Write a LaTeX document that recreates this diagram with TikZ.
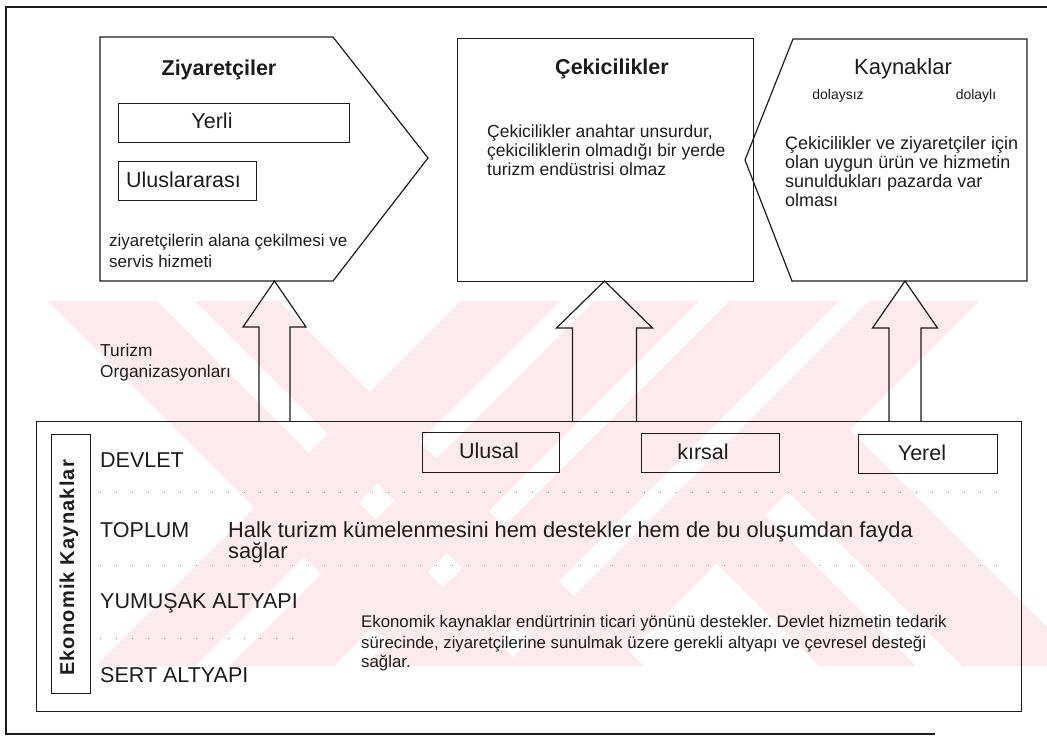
\documentclass[tikz,border=0pt]{standalone}
\usepackage{fontspec}
\setmainfont{Liberation Sans}
\usetikzlibrary{calc}
\definecolor{wm}{RGB}{253,234,238}
\definecolor{ink}{RGB}{28,28,28}
\newcommand\fsz[1]{\fontsize{#1}{#1}\selectfont}
% block arrow: foot, tip, shaft half width, head half width, head length
\newcommand\blockarrow[5]{%
  \draw[ln] ($(#1)+(-#3,0)$) -- ($(#2)+(-#3,#5)$) -- ($(#2)+(-#4,#5)$) -- (#2)
    -- ($(#2)+(#4,#5)$) -- ($(#2)+(#3,#5)$) -- ($(#1)+(#3,0)$);}
\frenchspacing
\begin{document}
\begin{tikzpicture}[x=1pt,y=-1pt,
  ln/.style={line width=1.2pt, draw=ink, line join=miter},
  boxn/.style={draw=ink, line width=1.1pt, inner sep=0pt, anchor=north west},
  txt/.style={inner sep=0pt, anchor=base west, text=ink},
  ctxt/.style={inner sep=0pt, anchor=base, text=ink},
  dotrow/.style={draw=black!45, line width=1pt, dash pattern=on 1pt off 15pt},
  ]
\useasboundingbox (0,0) rectangle (1047,736);

% background emblem stripes
\begin{scope}
  \clip (0,301) rectangle (1047,666);
  \fill[wm] (48,301) -- (157,301) -- (522,666) -- (413,666) -- cycle;
  \fill[wm] (195,301) -- (279,301) -- (644,666) -- (560,666) -- cycle;
  \fill[wm] (461,301) -- (560,301) -- (195,666) -- (96,666) -- cycle;
  \fill[wm] (594,301) -- (699,301) -- (334,666) -- (229,666) -- cycle;
  \fill[wm] (729,301) -- (839,301) -- (474,666) -- (364,666) -- cycle;
  \fill[wm] (869,301) -- (979,301) -- (614,666) -- (504,666) -- cycle;
  \fill[wm] (716.5,563.5) -- (765,515) -- (916,666) -- (819,666) -- cycle;
  \fill[wm] (788,492) -- (850,430) -- (1086,666) -- (962,666) -- cycle;
\end{scope}

% outer frame
\draw[ln] (1047,7) -- (6,7) -- (6,734) -- (935,734);

% visitors (pentagon)
\coordinate (z1) at (100,37);
\coordinate (z2) at (333,37);
\coordinate (z3) at (428,158);
\coordinate (z4) at (333,281);
\coordinate (z5) at (100,281);
\draw[ln] (z1) -- (z2) -- (z3) -- (z4) -- (z5) -- cycle;
\node[ctxt, font=\bfseries\fsz{21.5}] (ziyt) at (219,75) {Ziyaretçiler};
\node[boxn, minimum width=231pt, minimum height=39pt] (yerlib) at (118,103) {};
\node[ctxt, font=\fsz{21.5}] (yerlit) at (212,128) {Yerli};
\node[boxn, minimum width=138pt, minimum height=39pt] (ulub) at (118,161) {};
\node[txt, font=\fsz{21.5}] (ulut) at (126,187) {Uluslararası};
\node[txt, font=\fsz{17}] (ziy1) at (109,246) {ziyaretçilerin alana çekilmesi ve};
\node[txt, font=\fsz{17}] (ziy2) at (109,267) {servis hizmeti};

% attractions
\node[boxn, line width=1.2pt, minimum width=296pt, minimum height=243pt] (cek) at (457,38) {};
\node[ctxt, font=\bfseries\fsz{21.5}] (cekt) at (612,74) {Çekicilikler};
\node[txt, font=\fsz{17.5}] (cek1) at (487,137) {Çekicilikler anahtar unsurdur,};
\node[txt, font=\fsz{17.5}] (cek2) at (487,156) {çekiciliklerin olmadığı bir yerde};
\node[txt, font=\fsz{17.5}] (cek3) at (487,175) {turizm endüstrisi olmaz};

% resources (notched box)
\coordinate (k1) at (793,39);
\coordinate (k2) at (1027,39);
\coordinate (k3) at (1027,281);
\coordinate (k4) at (792,281);
\coordinate (k5) at (745,160);
\draw[ln] (k1) -- (k2) -- (k3) -- (k4) -- (k5) -- cycle;
\node[ctxt, font=\fsz{22}] (kayt) at (903,74) {Kaynaklar};
\node[ctxt, font=\fsz{14}] (dsz) at (838,99) {dolaysız};
\node[ctxt, font=\fsz{14}] (dli) at (976,99) {dolaylı};
\node[txt, font=\fsz{18}] (kay1) at (785,149) {Çekicilikler ve ziyaretçiler için};
\node[txt, font=\fsz{18}] (kay2) at (785,168) {olan uygun ürün ve hizmetin};
\node[txt, font=\fsz{18}] (kay3) at (785,187) {sunuldukları pazarda var};
\node[txt, font=\fsz{18}] (kay4) at (785,206) {olması};

% tourism organisations label
\node[txt, font=\fsz{17.3}] (tur1) at (100,356) {Turizm};
\node[txt, font=\fsz{17.3}] (tur2) at (100,377) {Organizasyonları};

% economic resources box
\node[boxn, line width=1.2pt, minimum width=985pt, minimum height=290pt] (eko) at (36,421) {};
\node[boxn, minimum width=39pt, minimum height=259pt] (ekob) at (51,434) {};
\node[inner sep=0pt, rotate=90, text=ink,
  font=\bfseries\fsz{20}\addfontfeatures{LetterSpace=6}] (ekot) at (69,568) {Ekonomik Kaynaklar};

\node[txt, font=\fsz{21.5}] (devlet) at (100,467) {DEVLET};
\node[txt, font=\fsz{21.5}] (toplum) at (100,537) {TOPLUM};
\node[txt, font=\fsz{21.5}] (yumusak) at (100,608) {YUMUŞAK ALTYAPI};
\node[txt, font=\fsz{21.5}] (sert) at (100,682) {SERT ALTYAPI};

\node[txt, font=\fsz{21.8}] (halk1) at (228,537) {Halk turizm kümelenmesini hem destekler hem de bu oluşumdan fayda};
\node[txt, font=\fsz{21.8}] (halk2) at (228,558) {sağlar};

\node[txt, font=\fsz{16.8}] (ek1) at (361,627) {Ekonomik kaynaklar endürtrinin ticari yönünü destekler. Devlet hizmetin tedarik};
\node[txt, font=\fsz{16.8}] (ek2) at (361,648) {sürecinde, ziyaretçilerine sunulmak üzere gerekli altyapı ve çevresel desteği};
\node[txt, font=\fsz{16.8}] (ek3) at (361,667) {sağlar.};

\node[boxn, minimum width=137pt, minimum height=40pt] (ulsb) at (422,432) {};
\node[ctxt, font=\fsz{21.5}] (ulst) at (489,458) {Ulusal};
\node[boxn, minimum width=138pt, minimum height=39pt] (kirb) at (641,433) {};
\node[ctxt, font=\fsz{21.5}] (kirt) at (703,459) {kırsal};
\node[boxn, minimum width=139pt, minimum height=39pt] (yerb) at (858,434) {};
\node[ctxt, font=\fsz{21.5}] (yert) at (922,460) {Yerel};

% dotted separators
\coordinate (d1a) at (100,492); \coordinate (d1b) at (1002,492);
\coordinate (d2a) at (100,565); \coordinate (d2b) at (1002,565);
\coordinate (d3a) at (100,638); \coordinate (d3b) at (305,638);
\draw[dotrow] (d1a) -- (d1b);
\draw[dotrow] (d2a) -- (d2b);
\draw[dotrow] (d3a) -- (d3b);

% upward block arrows
\coordinate (tip1) at (274.5,281); \coordinate (foot1) at (274.5,421);
\coordinate (tip2) at (604.5,281); \coordinate (foot2) at (604.5,421);
\coordinate (tip3) at (905,281);   \coordinate (foot3) at (905,421);
\blockarrow{foot1}{tip1}{15.5}{31.5}{46}
\blockarrow{foot2}{tip2}{32}{48}{47}
\blockarrow{foot3}{tip3}{16}{32.5}{47}
\end{tikzpicture}
\end{document}
